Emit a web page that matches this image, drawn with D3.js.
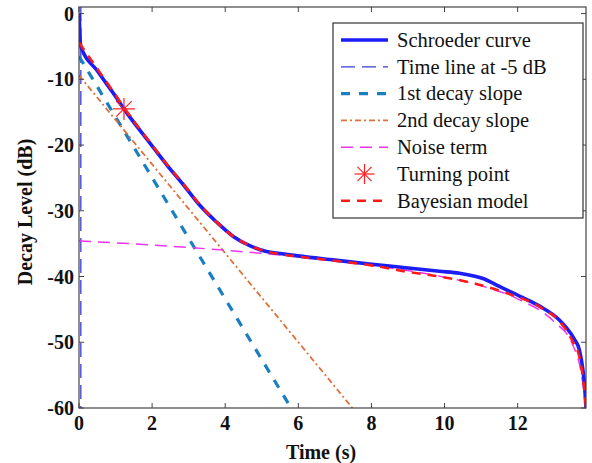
<!DOCTYPE html>
<html lang="en">
<head>
<meta charset="utf-8">
<title>Schroeder decay</title>
<script src="https://d3js.org/d3.v7.min.js"></script>
<style>
  body { margin: 0; background: #fff; }
  text { font-family: "Liberation Serif", "Times New Roman", serif; }
  .tick-label { font-size: 20px; font-weight: bold; fill: #111; }
  .axis-label { font-size: 20px; font-weight: bold; fill: #111; }
  .legend-text { font-size: 20.5px; fill: #111; }
</style>
</head>
<body>
<div id="chart"></div>
<script>
// values (time in s, level in dB)
const schroederT = [0, 0.01, 0.03, 0.05, 0.5, 1.0, 1.23, 1.94, 2.4, 2.85, 3.31, 3.76, 4.22, 4.67, 5.13, 5.5, 6.04, 7.0, 7.95, 9.0, 9.86, 10.41, 11.05, 11.5, 12.14, 12.6, 13.14, 13.32, 13.55, 13.69, 13.78, 13.83, 13.87];
const schroederL = [0, -1, -4, -5, -8.7, -12.6, -14.5, -19.7, -23.0, -26.0, -29.2, -31.7, -33.9, -35.3, -36.2, -36.5, -36.9, -37.5, -38.1, -38.7, -39.2, -39.5, -40.3, -41.5, -43.2, -44.5, -46.6, -47.7, -49.5, -51.2, -54.0, -56.5, -60];

const bayesT = [0, 0.5, 1.0, 1.23, 1.94, 2.4, 2.85, 3.31, 3.76, 4.22, 4.67, 5.13, 5.5, 6.04, 7.0, 8.0, 9.0, 9.86, 10.77, 11.69, 12.6, 13.14, 13.5, 13.7, 13.8, 13.87];
const bayesL = [-4.4, -8.4, -12.4, -14.3, -19.6, -22.9, -25.9, -29.1, -31.7, -33.9, -35.3, -36.2, -36.6, -37.0, -37.6, -38.3, -39.3, -40.0, -41.0, -42.5, -44.6, -46.8, -49.8, -52.5, -56.0, -60];

const noiseT = [0, 2, 4, 6, 8, 10, 11, 12, 13, 13.5, 13.75, 13.87];
const noiseL = [-34.6, -35.2, -36.0, -37.0, -38.3, -40.1, -41.4, -43.4, -46.9, -50.3, -55.0, -60];

const slope1T = [0, 5.8];
const slope1L = [-6.5, -60];
const slope2T = [0, 7.48];
const slope2L = [-9.4, -60];

const timeLineT = [0.05, 0.05];
const timeLineL = [1, -60];

const turningT = [1.23];
const turningL = [-14.5];

const xTicks = [0, 2, 4, 6, 8, 10, 12];
const yTicks = [0, -10, -20, -30, -40, -50, -60];

const legendLabels = ["Schroeder curve", "Time line at -5 dB", "1st decay slope", "2nd decay slope", "Noise term", "Turning point", "Bayesian model"];

const width = 592, height = 463;
const margin = {top: 7, right: 6, bottom: 55, left: 79};
const iw = width - margin.left - margin.right;
const ih = height - margin.top - margin.bottom;

const svg = d3.select("#chart").append("svg")
  .attr("width", width).attr("height", height);

const x = d3.scaleLinear().domain([0, 13.87]).range([0, iw]);
const y = d3.scaleLinear().domain([-60, 1]).range([ih, 0]);

const g = svg.append("g").attr("transform", `translate(${margin.left},${margin.top})`);

svg.append("defs").append("clipPath").attr("id", "clip")
  .append("rect").attr("width", iw).attr("height", ih);

const plot = g.append("g").attr("clip-path", "url(#clip)");

const line = d3.line().x(d => x(d[0])).y(d => y(d[1])).curve(d3.curveMonotoneX);
const zip = (a, b) => a.map((v, i) => [v, b[i]]);

const styles = {
  schroeder: {stroke: "#1c1cf5", width: 3.6, dash: null},
  time: {stroke: "#3a3ad8", width: 1.3, dash: "14,7"},
  slope1: {stroke: "#1a7fc0", width: 3.2, dash: "9,9"},
  slope2: {stroke: "#e0703a", width: 1.8, dash: "6,3,2,3"},
  noise: {stroke: "#ee33ee", width: 1.5, dash: "12,7"},
  bayes: {stroke: "#ff1a1a", width: 2.6, dash: "9,7"}
};

function draw(data, s) {
  plot.append("path").datum(data)
    .attr("d", line)
    .attr("fill", "none")
    .attr("stroke", s.stroke)
    .attr("stroke-width", s.width)
    .attr("stroke-dasharray", s.dash);
}

draw(zip(timeLineT, timeLineL), styles.time);
draw(zip(slope1T, slope1L), styles.slope1);
draw(zip(slope2T, slope2L), styles.slope2);
draw(zip(noiseT, noiseL), styles.noise);
draw(zip(schroederT, schroederL), styles.schroeder);
draw(zip(bayesT, bayesL), styles.bayes);

function asterisk(sel, cx, cy, r) {
  const gg = sel.append("g").attr("transform", `translate(${cx},${cy})`)
    .attr("stroke", "#ff2020").attr("stroke-width", 1.2);
  [0, 45, 90, 135].forEach(a => {
    const rad = a * Math.PI / 180;
    gg.append("line")
      .attr("x1", -r * Math.cos(rad)).attr("y1", -r * Math.sin(rad))
      .attr("x2", r * Math.cos(rad)).attr("y2", r * Math.sin(rad));
  });
}
turningT.forEach((t, i) => asterisk(g, x(t), y(turningL[i]), 11));

// box and ticks
const axisColor = "#444";
g.append("rect").attr("width", iw).attr("height", ih)
  .attr("fill", "none").attr("stroke", axisColor).attr("stroke-width", 1.2);

const tl = 5;
xTicks.forEach(t => {
  g.append("line").attr("x1", x(t)).attr("x2", x(t)).attr("y1", ih).attr("y2", ih - tl).attr("stroke", axisColor);
  g.append("line").attr("x1", x(t)).attr("x2", x(t)).attr("y1", 0).attr("y2", tl).attr("stroke", axisColor);
  g.append("text").attr("class", "tick-label")
    .attr("x", x(t)).attr("y", ih + 22).attr("text-anchor", "middle").text(t);
});
yTicks.forEach(v => {
  g.append("line").attr("x1", 0).attr("x2", tl).attr("y1", y(v)).attr("y2", y(v)).attr("stroke", axisColor);
  g.append("line").attr("x1", iw).attr("x2", iw - tl).attr("y1", y(v)).attr("y2", y(v)).attr("stroke", axisColor);
  g.append("text").attr("class", "tick-label")
    .attr("x", -5).attr("y", y(v)).attr("dy", "0.35em").attr("text-anchor", "end").text(v);
});

svg.append("text").attr("class", "axis-label")
  .attr("x", 321).attr("y", 459).attr("text-anchor", "middle").text("Time (s)");
svg.append("text").attr("class", "axis-label")
  .attr("transform", "translate(32,212) rotate(-90)")
  .attr("text-anchor", "middle").text("Decay Level (dB)");

// legend
const lg = svg.append("g").attr("transform", "translate(333,23)");
lg.append("rect").attr("width", 250).attr("height", 195)
  .attr("fill", "#fff").attr("stroke", "#333").attr("stroke-width", 1.2);
const legendStyles = [styles.schroeder, styles.time, styles.slope1, styles.slope2, styles.noise, null, styles.bayes];
legendLabels.forEach((lab, i) => {
  const yy = 17 + i * 26.8;
  const s = legendStyles[i];
  if (s) {
    lg.append("line").attr("x1", 8).attr("x2", 55).attr("y1", yy).attr("y2", yy)
      .attr("stroke", s.stroke).attr("stroke-width", s.width).attr("stroke-dasharray", s.dash);
  } else {
    asterisk(lg, 31.5, yy, 10);
  }
  lg.append("text").attr("class", "legend-text")
    .attr("x", 64).attr("y", yy).attr("dy", "0.33em").text(lab);
});
</script>
</body>
</html>
